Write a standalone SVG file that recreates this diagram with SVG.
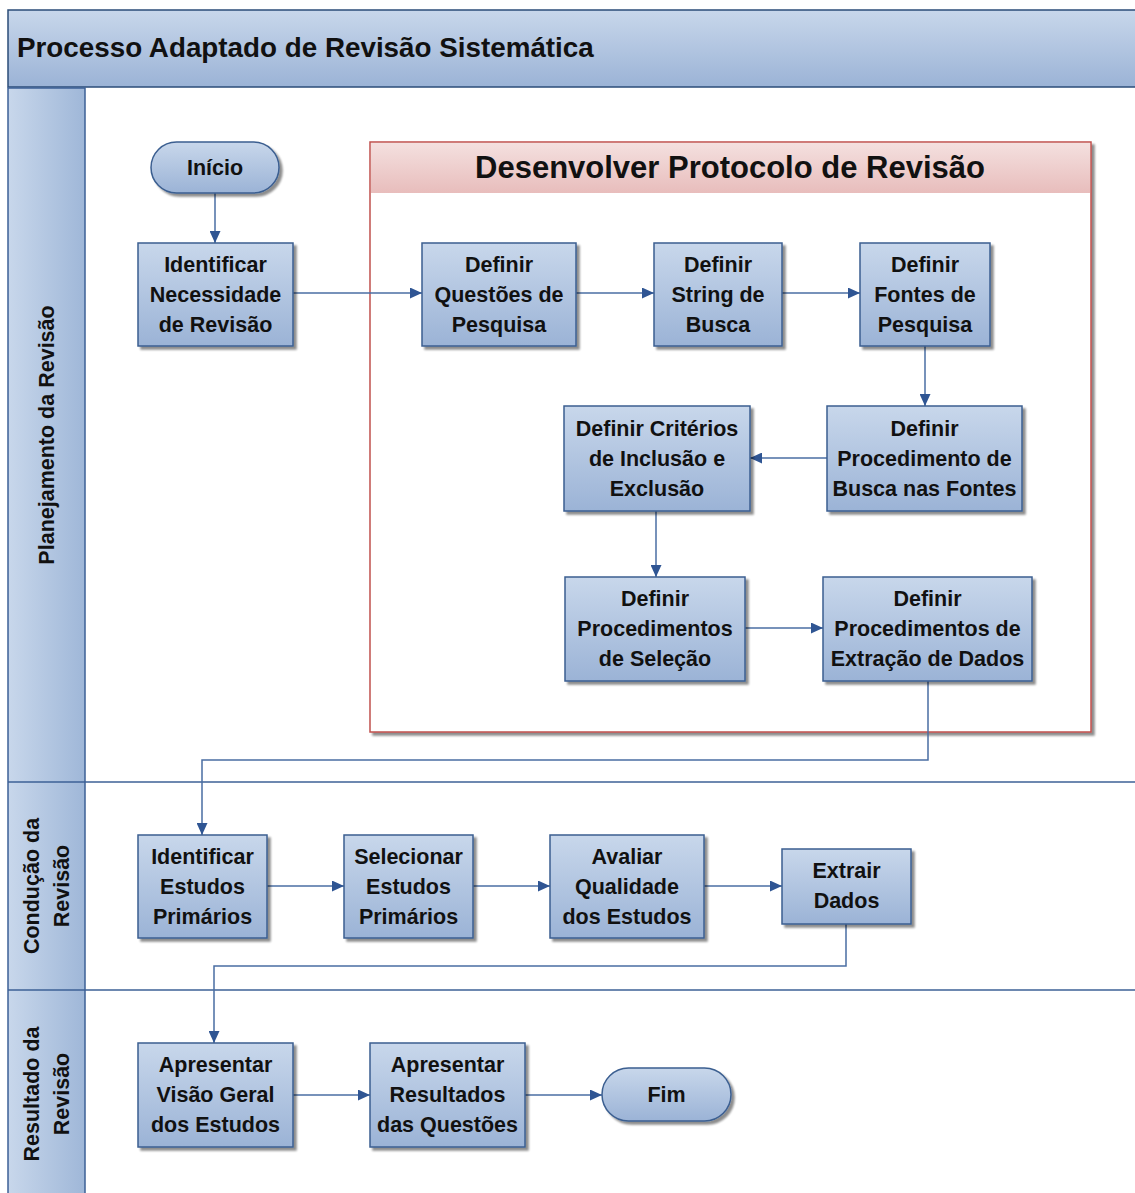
<svg xmlns="http://www.w3.org/2000/svg" width="1135" height="1193" viewBox="0 0 1135 1193">
<defs>
<linearGradient id="gBox" x1="0" y1="0" x2="0" y2="1">
<stop offset="0" stop-color="#c8d7eb"/><stop offset="1" stop-color="#9bb3d6"/>
</linearGradient>
<linearGradient id="gLane" x1="0" y1="0" x2="1" y2="0">
<stop offset="0" stop-color="#c8d7eb"/><stop offset="1" stop-color="#9fb7d8"/>
</linearGradient>
<linearGradient id="gPink" x1="0" y1="0" x2="0" y2="1">
<stop offset="0" stop-color="#f4e0df"/><stop offset="1" stop-color="#e8bdbc"/>
</linearGradient>
<filter id="sh" x="-10%" y="-10%" width="130%" height="130%">
<feGaussianBlur in="SourceAlpha" stdDeviation="1.2"/>
<feOffset dx="3" dy="3" result="o"/>
<feComponentTransfer><feFuncA type="linear" slope="0.45"/></feComponentTransfer>
<feMerge><feMergeNode/><feMergeNode in="SourceGraphic"/></feMerge>
</filter>
<marker id="arr" markerUnits="userSpaceOnUse" markerWidth="12" markerHeight="11" refX="12" refY="5.5" orient="auto">
<path d="M0,0 L12,5.5 L0,11 z" fill="#2f5593"/>
</marker>
<style>
.box{fill:url(#gBox);stroke:#3b5e90;stroke-width:1.5}
.t{font-family:"Liberation Sans",Arial,sans-serif;font-weight:bold;font-size:21.5px;fill:#111;text-anchor:middle}
.lane{font-family:"Liberation Sans",Arial,sans-serif;font-weight:bold;font-size:21.5px;fill:#111;text-anchor:middle}
.c{fill:none;stroke:#4a6ea3;stroke-width:1.5;marker-end:url(#arr)}
.div{stroke:#3d6096;stroke-width:1.5;fill:none}
</style>
</defs>
<rect x="0" y="0" width="1135" height="1193" fill="#ffffff"/>

<g id="pool">
<rect x="8" y="10" width="1140" height="77" fill="url(#gBox)" stroke="#2b4c78" stroke-width="1.5"/>
<text x="17" y="57" font-family="Liberation Sans,Arial,sans-serif" font-weight="bold" font-size="27.8" fill="#111">Processo Adaptado de Revisão Sistemática</text>
<rect x="8" y="88" width="77" height="1110" fill="url(#gLane)" stroke="#3d6096" stroke-width="1.5"/>
<line class="div" x1="8" y1="782" x2="1135" y2="782"/>
<line class="div" x1="8" y1="990" x2="1135" y2="990"/>
<text class="lane" transform="translate(54,435) rotate(-90)">Planejamento da Revisão</text>
<text class="lane" transform="translate(39,886) rotate(-90)">Condução da</text>
<text class="lane" transform="translate(69,886) rotate(-90)">Revisão</text>
<text class="lane" transform="translate(39,1094) rotate(-90)">Resultado da</text>
<text class="lane" transform="translate(69,1094) rotate(-90)">Revisão</text>
</g>

<g id="protocolo">
<rect x="370" y="142" width="721" height="590" fill="#ffffff" stroke="#c0504d" stroke-width="1.5" filter="url(#sh)"/>
<rect x="371" y="143" width="719" height="50" fill="url(#gPink)"/>
<text x="730" y="178" font-family="Liberation Sans,Arial,sans-serif" font-weight="bold" font-size="31" fill="#111" text-anchor="middle">Desenvolver Protocolo de Revisão</text>
</g>

<g id="connectors">
<line class="c" x1="215" y1="193" x2="215" y2="243"/>
<line class="c" x1="293" y1="293" x2="422" y2="293"/>
<line class="c" x1="576" y1="293" x2="654" y2="293"/>
<line class="c" x1="782" y1="293" x2="860" y2="293"/>
<line class="c" x1="925" y1="346" x2="925" y2="406"/>
<line class="c" x1="827" y1="458" x2="750" y2="458"/>
<line class="c" x1="656" y1="511" x2="656" y2="577"/>
<line class="c" x1="745" y1="628" x2="823" y2="628"/>
<polyline class="c" points="928,681 928,760 202,760 202,835"/>
<line class="c" x1="267" y1="886" x2="344" y2="886"/>
<line class="c" x1="473" y1="886" x2="550" y2="886"/>
<line class="c" x1="704" y1="886" x2="782" y2="886"/>
<polyline class="c" points="846,924 846,966 214,966 214,1043"/>
<line class="c" x1="293" y1="1095" x2="370" y2="1095"/>
<line class="c" x1="525" y1="1095" x2="602" y2="1095"/>
</g>

<g id="inicio">
<rect class="box" x="151" y="142" width="128" height="51" rx="25.5" filter="url(#sh)"/>
<text class="t" x="215" y="175">Início</text>
</g>
<g id="identificar-necessidade">
<rect class="box" x="138" y="243" width="155" height="103" filter="url(#sh)"/>
<text class="t" x="215.5" y="272">Identificar</text>
<text class="t" x="215.5" y="302">Necessidade</text>
<text class="t" x="215.5" y="332">de Revisão</text>
</g>
<g id="questoes">
<rect class="box" x="422" y="243" width="154" height="103" filter="url(#sh)"/>
<text class="t" x="499" y="272">Definir</text>
<text class="t" x="499" y="302">Questões de</text>
<text class="t" x="499" y="332">Pesquisa</text>
</g>
<g id="string">
<rect class="box" x="654" y="243" width="128" height="103" filter="url(#sh)"/>
<text class="t" x="718" y="272">Definir</text>
<text class="t" x="718" y="302">String de</text>
<text class="t" x="718" y="332">Busca</text>
</g>
<g id="fontes">
<rect class="box" x="860" y="243" width="130" height="103" filter="url(#sh)"/>
<text class="t" x="925" y="272">Definir</text>
<text class="t" x="925" y="302">Fontes de</text>
<text class="t" x="925" y="332">Pesquisa</text>
</g>
<g id="procedimento-busca">
<rect class="box" x="827" y="406" width="195" height="105" filter="url(#sh)"/>
<text class="t" x="924.5" y="436">Definir</text>
<text class="t" x="924.5" y="466">Procedimento de</text>
<text class="t" x="924.5" y="496">Busca nas Fontes</text>
</g>
<g id="criterios">
<rect class="box" x="564" y="406" width="186" height="105" filter="url(#sh)"/>
<text class="t" x="657" y="436">Definir Critérios</text>
<text class="t" x="657" y="466">de Inclusão e</text>
<text class="t" x="657" y="496">Exclusão</text>
</g>
<g id="selecao">
<rect class="box" x="565" y="577" width="180" height="104" filter="url(#sh)"/>
<text class="t" x="655" y="606">Definir</text>
<text class="t" x="655" y="636">Procedimentos</text>
<text class="t" x="655" y="666">de Seleção</text>
</g>
<g id="extracao">
<rect class="box" x="823" y="577" width="209" height="104" filter="url(#sh)"/>
<text class="t" x="927.5" y="606">Definir</text>
<text class="t" x="927.5" y="636">Procedimentos de</text>
<text class="t" x="927.5" y="666">Extração de Dados</text>
</g>
<g id="identificar-estudos">
<rect class="box" x="138" y="835" width="129" height="103" filter="url(#sh)"/>
<text class="t" x="202.5" y="864">Identificar</text>
<text class="t" x="202.5" y="894">Estudos</text>
<text class="t" x="202.5" y="924">Primários</text>
</g>
<g id="selecionar">
<rect class="box" x="344" y="835" width="129" height="103" filter="url(#sh)"/>
<text class="t" x="408.5" y="864">Selecionar</text>
<text class="t" x="408.5" y="894">Estudos</text>
<text class="t" x="408.5" y="924">Primários</text>
</g>
<g id="avaliar">
<rect class="box" x="550" y="835" width="154" height="103" filter="url(#sh)"/>
<text class="t" x="627" y="864">Avaliar</text>
<text class="t" x="627" y="894">Qualidade</text>
<text class="t" x="627" y="924">dos Estudos</text>
</g>
<g id="extrair">
<rect class="box" x="782" y="849" width="129" height="75" filter="url(#sh)"/>
<text class="t" x="846.5" y="878">Extrair</text>
<text class="t" x="846.5" y="908">Dados</text>
</g>
<g id="visao-geral">
<rect class="box" x="138" y="1043" width="155" height="104" filter="url(#sh)"/>
<text class="t" x="215.5" y="1072">Apresentar</text>
<text class="t" x="215.5" y="1102">Visão Geral</text>
<text class="t" x="215.5" y="1132">dos Estudos</text>
</g>
<g id="resultados">
<rect class="box" x="370" y="1043" width="155" height="104" filter="url(#sh)"/>
<text class="t" x="447.5" y="1072">Apresentar</text>
<text class="t" x="447.5" y="1102">Resultados</text>
<text class="t" x="447.5" y="1132">das Questões</text>
</g>
<g id="fim">
<rect class="box" x="602" y="1068" width="129" height="53" rx="26.5" filter="url(#sh)"/>
<text class="t" x="666.5" y="1102">Fim</text>
</g>
</svg>
